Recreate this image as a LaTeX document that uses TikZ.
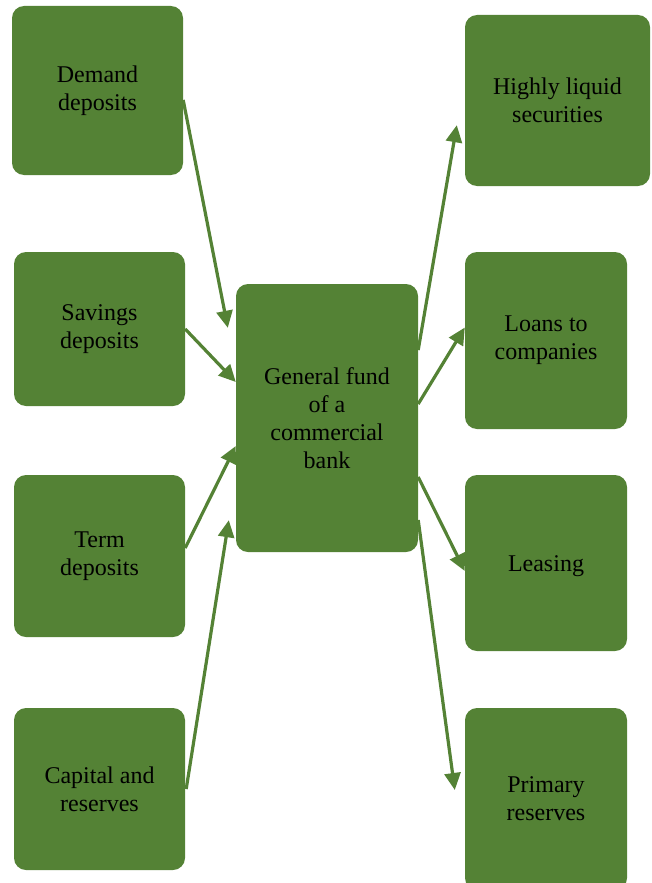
\documentclass[tikz,border=0pt]{standalone}
\usepackage{fontspec}
\setmainfont{Liberation Serif}
\usetikzlibrary{arrows.meta}

\definecolor{bankgreen}{HTML}{548235}

\begin{document}
\begin{tikzpicture}[x=1pt, y=-1pt,
    box/.style={fill=bankgreen, rounded corners=12pt, align=center, inner sep=0pt,
        font=\fontsize{24}{28}\selectfont, execute at begin node={\rule{0pt}{23pt}}},
    flow/.style={bankgreen, line width=3.2pt, -{Triangle[length=17pt, width=16pt]}}]
    % Marco
    \useasboundingbox (0,0) rectangle (651,883);
    \clip (0,0) rectangle (651,883);

    % Fuentes (izquierda)
    \node[box, minimum width=171pt, minimum height=169pt] (dem) at (97.5, 90.5) {Demand\\deposits};
    \node[box, minimum width=171pt, minimum height=154pt] (sav) at (99.5, 329) {Savings\\deposits};
    \node[box, minimum width=171pt, minimum height=162pt] (term) at (99.5, 556) {Term\\deposits};
    \node[box, minimum width=171pt, minimum height=162pt] (cap) at (99.5, 789) {Capital and\\reserves};

    % Fondo general
    \node[box, minimum width=182pt, minimum height=268pt] (fund) at (327, 418) {General fund\\of a\\commercial\\bank};

    % Usos (derecha)
    \node[box, minimum width=185pt, minimum height=171pt] (liq) at (557.5, 100.5) {Highly liquid\\securities};
    \node[box, minimum width=162pt, minimum height=177pt] (loan) at (546, 340.5) {Loans to\\companies};
    \node[box, minimum width=162pt, minimum height=176pt] (lease) at (546, 563) {Leasing};
    \node[box, minimum width=162pt, minimum height=182pt] (prim) at (546, 799) {Primary\\reserves};

    % Puntas de flecha
    \coordinate (in1) at ([shift={(-8,44)}]fund.north west);
    \coordinate (in2) at ([shift={(0,-36)}]fund.west);
    \coordinate (in3) at ([shift={(0,28)}]fund.west);
    \coordinate (in4) at ([shift={(-7,-32)}]fund.south west);
    \coordinate (out1) at ([shift={(-8,-61)}]liq.south west);
    \coordinate (out2) at ([shift={(0,-13)}]loan.west);
    \coordinate (out3) at ([shift={(0,8)}]lease.west);
    \coordinate (out4) at ([shift={(-10,-9)}]prim.west);

    % Flechas de entrada
    \draw[flow] ([shift={(0,9.5)}]dem.east) -- (in1);
    \draw[flow] (sav.east) -- (in2);
    \draw[flow] ([shift={(0,-8)}]term.east) -- (in3);
    \draw[flow] ([shift={(1,0)}]cap.east) -- (in4);

    % Flechas de salida
    \draw[flow] ([shift={(0,-68)}]fund.east) -- (out1);
    \draw[flow] ([shift={(0,-14)}]fund.east) -- (out2);
    \draw[flow] ([shift={(0,59)}]fund.east) -- (out3);
    \draw[flow] ([shift={(0,102)}]fund.east) -- (out4);
\end{tikzpicture}
\end{document}
